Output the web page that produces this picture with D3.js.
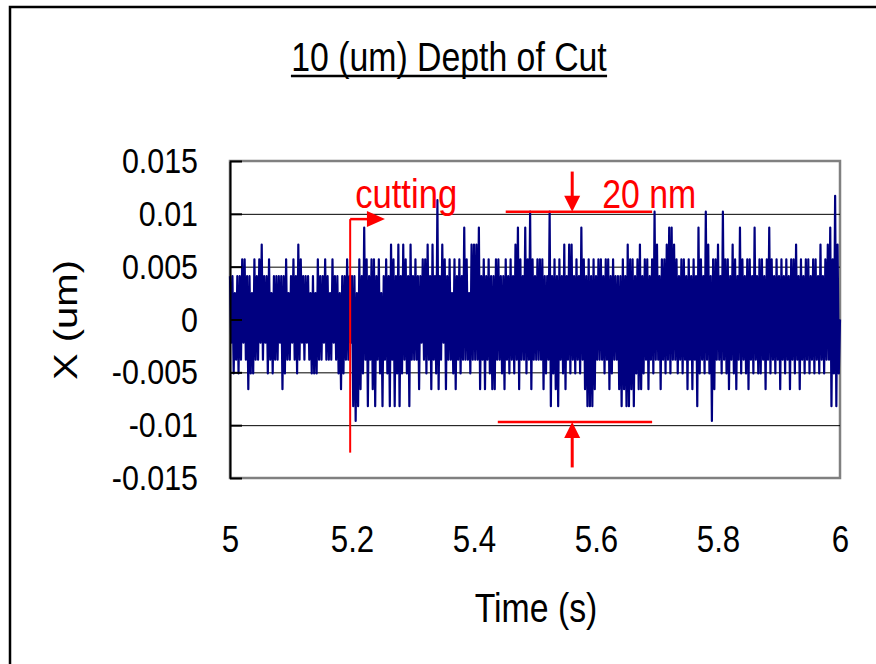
<!DOCTYPE html>
<html>
<head>
<meta charset="utf-8">
<script src="https://cdn.jsdelivr.net/npm/d3@7"></script>
<style>
  body { margin: 0; background: #fff; }
  text { font-family: "Liberation Sans", Arial, sans-serif; }
</style>
</head>
<body>
<div class="canvas"></div>
<script>
// displacement samples (nm), one every 2 ms from 5.000 s to 6.000 s
const seg50 = [4.1,-2.2,4.1,-5.1,2.5,-3.8,4.1,-5.1,4.1,-3.8, 5.7,-2.2,5.7,-3.8,4.1,-6.6,4.1,-5.1,2.5,-5.1,
  5.7,-3.8,4.1,-3.8,5.7,-2.2,7.1,-3.8,4.1,-2.2, 4.1,-5.1,5.7,-3.8,2.5,-5.1,4.1,-3.8,4.1,-3.8,
  4.1,-2.2,4.1,-6.6,4.1,-5.1,5.7,-3.8,2.5,-3.8];
const seg51 = [4.1,-2.2,5.7,-3.8,4.1,-5.1,7.1,-3.8,5.7,-2.2, 4.1,-3.8,4.1,-2.2,4.1,-3.8,2.5,-5.1,4.1,-5.1,
  2.5,-5.1,5.7,-3.8,4.1,-3.8,4.1,-2.2,5.7,-3.8, 4.1,-3.8,2.5,-3.8,5.7,-2.2,4.1,-3.8,4.1,-5.1,
  2.5,-6.6,4.1,-5.1,4.1,-3.8,5.7,-3.8,4.1,-2.2];
const seg52 = [4.1,-8.2,4.1,-9.6,2.5,-8.2,5.7,-6.6,4.1,-5.1, 8.7,-3.8,5.7,-8.2,4.1,-3.8,5.7,-6.6,5.7,-8.2,
  4.1,-3.8,5.7,-5.1,2.5,-8.2,4.1,-3.8,5.7,-5.1, 4.1,-8.2,7.1,-3.8,5.7,-8.2,4.1,-5.1,7.1,-8.2,
  4.1,-5.1,7.1,-3.8,5.7,-5.1,4.1,-8.2,7.1,-3.8];
const seg53 = [4.1,-3.8,5.7,-3.8,4.1,-6.6,4.1,-2.2,5.7,-3.8, 5.7,-5.1,7.1,-3.8,4.1,-6.6,7.1,-3.8,4.1,-5.1,
  11.3,-6.6,4.1,-3.8,7.1,-2.2,5.7,-6.6,4.1,-3.8, 5.7,-3.8,2.5,-5.1,5.7,-6.6,4.1,-3.8,5.7,-5.1,
  4.1,-3.8,8.7,-3.8,5.7,-3.8,2.5,-5.1,7.1,-3.8];
const seg54 = [7.1,-3.8,7.1,-3.8,8.7,-6.6,4.1,-3.8,5.7,-6.6, 4.1,-3.8,5.7,-5.1,4.1,-6.6,4.1,-6.6,5.7,-3.8,
  5.7,-3.8,4.1,-5.1,4.1,-6.6,5.7,-3.8,4.1,-5.1, 5.7,-3.8,4.1,-5.1,7.1,-3.8,8.7,-6.6,5.7,-3.8,
  4.1,-3.8,8.7,-5.1,5.7,-3.8,10.2,-6.6,5.7,-3.8];
const seg55 = [4.1,-3.8,5.7,-3.8,5.7,-3.8,5.7,-6.6,4.1,-5.1, 4.1,-3.8,10.2,-8.2,4.1,-5.1,5.7,-6.6,4.1,-8.2,
  5.7,-3.8,4.1,-5.1,7.1,-6.6,4.1,-3.8,7.1,-5.1, 7.1,-3.8,4.1,-5.1,5.7,-3.8,4.1,-5.1,8.7,-3.8,
  5.7,-6.6,4.1,-8.2,5.7,-8.2,4.1,-8.2,5.7,-6.6];
const seg56 = [4.1,-3.8,5.7,-3.8,5.7,-3.8,4.1,-5.1,5.7,-3.8, 5.7,-6.6,4.1,-5.1,5.7,-3.8,4.1,-3.8,4.1,-6.6,
  4.1,-8.2,5.7,-6.6,4.1,-8.2,7.1,-8.2,5.7,-6.6, 5.7,-8.2,4.1,-5.1,5.7,-6.6,7.1,-6.6,4.1,-5.1,
  5.7,-3.8,5.7,-6.6,4.1,-3.8,5.7,-5.1,10.2,-3.8];
const seg57 = [7.1,-3.8,4.1,-6.6,5.7,-3.8,5.7,-5.1,7.1,-3.8, 8.7,-5.1,8.7,-3.8,7.1,-3.8,5.7,-5.1,4.1,-3.8,
  5.7,-5.1,5.7,-3.8,4.1,-6.6,5.7,-3.8,4.1,-6.6, 5.7,-3.8,4.1,-8.2,8.7,-5.1,5.7,-3.8,4.1,-5.1,
  10.2,-3.8,7.1,-5.1,4.1,-9.6,5.7,-6.6,5.7,-3.8];
const seg58 = [7.1,-3.8,4.1,-5.1,10.2,-3.8,5.7,-5.1,5.7,-6.6, 4.1,-3.8,7.1,-5.1,5.7,-6.6,4.1,-3.8,8.7,-5.1,
  5.7,-3.8,4.1,-5.1,5.7,-6.6,5.7,-3.8,4.1,-5.1, 8.7,-3.8,4.1,-5.1,5.7,-5.1,5.7,-3.8,4.1,-6.6,
  5.7,-3.8,8.7,-5.1,5.7,-3.8,4.1,-5.1,5.7,-3.8];
const seg59 = [4.1,-6.6,5.7,-3.8,4.1,-5.1,5.7,-3.8,4.1,-6.6, 5.7,-3.8,5.7,-5.1,7.1,-3.8,4.1,-6.6,5.7,-3.8,
  4.1,-5.1,5.7,-3.8,5.7,-5.1,4.1,-3.8,5.7,-5.1, 5.7,-3.8,4.1,-5.1,7.1,-3.8,4.1,-5.1,5.7,-3.8,
  7.1,-3.8,8.7,-8.2,5.7,-5.1,11.7,-8.2,7.1,-5.1, 0.0];

const startTime = 5;
const sampleStep = 0.002;

const xTicks = [5, 5.2, 5.4, 5.6, 5.8, 6];
const xTickLabels = ['5', '5.2', '5.4', '5.6', '5.8', '6'];
const yTicks = [0.015, 0.01, 0.005, 0, -0.005, -0.01, -0.015];
const yTickLabels = ['0.015', '0.01', '0.005', '0', '-0.005', '-0.01', '-0.015'];
const gridValues = [0.01, 0.005, 0, -0.005, -0.01];

// annotation anchors, in data units (s, um)
const cutStart = { t: 5.197, top: 0.0095, bottom: -0.0126, arrowEnd: 5.254 };
const band = { upper: 0.0102, lower: -0.0097, upperFrom: 5.452, lowerFrom: 5.439, to: 5.692, arrowT: 5.561, outer: 0.014 };

const samples = [].concat(seg50, seg51, seg52, seg53, seg54, seg55, seg56, seg57, seg58, seg59)
  .map((v, i) => ({ t: startTime + i * sampleStep, x: v / 1000 }));

// the original text is horizontally condensed
const squeeze = 0.845;

const svg = d3.select('.canvas')
  .append('svg')
  .attr('width', 876)
  .attr('height', 664);

// chart frame
svg.append('rect')
  .attr('x', 10).attr('y', 7)
  .attr('width', 900).attr('height', 700)
  .attr('fill', 'none')
  .attr('stroke', '#000')
  .attr('stroke-width', 2.5);

const margin = { left: 230, top: 161 };
const width = 610, height = 317;

const graph = svg.append('g')
  .attr('transform', `translate(${margin.left},${margin.top})`);

const x = d3.scaleLinear().domain([5, 6]).range([0, width]);
const y = d3.scaleLinear().domain([-0.015, 0.015]).range([height, 0]);

// plot area border
graph.append('rect')
  .attr('width', width).attr('height', height)
  .attr('fill', 'none')
  .attr('stroke', '#808080')
  .attr('stroke-width', 2.5);

// gridlines
graph.append('g')
  .call(d3.axisLeft(y).tickValues(gridValues).tickSize(-width).tickFormat(''))
  .call(g => g.select('.domain').remove())
  .selectAll('line')
  .attr('stroke', '#000')
  .attr('stroke-width', 1);

// data line
const line = d3.line()
  .x(d => x(d.t))
  .y(d => y(d.x));

graph.append('path')
  .datum(samples)
  .attr('fill', 'none')
  .attr('stroke', '#000080')
  .attr('stroke-width', 2.2)
  .attr('stroke-linejoin', 'round')
  .attr('d', line);

// y axis with inside ticks
const yAxisGroup = graph.append('g')
  .call(d3.axisLeft(y).tickValues(yTicks).tickSizeInner(-12).tickSizeOuter(0).tickPadding(32)
    .tickFormat((d, i) => yTickLabels[i]));
yAxisGroup.select('.domain').attr('stroke', '#000').attr('stroke-width', 2);
yAxisGroup.selectAll('.tick line').attr('stroke', '#000').attr('stroke-width', 2);
yAxisGroup.selectAll('text')
  .attr('font-size', 36)
  .attr('fill', '#000')
  .attr('x', -32 / squeeze)
  .attr('transform', `scale(${squeeze},1)`);
yAxisGroup.attr('font-family', null);

// x axis labels only
const xAxisGroup = graph.append('g')
  .attr('transform', `translate(0,${height})`)
  .call(d3.axisBottom(x).tickValues(xTicks).tickSize(0).tickPadding(48)
    .tickFormat((d, i) => xTickLabels[i]));
xAxisGroup.select('.domain').remove();
xAxisGroup.attr('font-family', null);
xAxisGroup.selectAll('text')
  .attr('font-size', 37)
  .attr('fill', '#000')
  .attr('transform', `scale(${squeeze},1)`);

// titles
const title = svg.append('text')
  .attr('transform', `translate(449,71) scale(${squeeze},1)`)
  .attr('text-anchor', 'middle')
  .attr('font-size', 40)
  .text('10 (um) Depth of Cut');
const titleW = title.node().getBBox().width * squeeze;
svg.append('line')
  .attr('x1', 449 - titleW / 2).attr('x2', 449 + titleW / 2)
  .attr('y1', 76).attr('y2', 76)
  .attr('stroke', '#000').attr('stroke-width', 2.5);

svg.append('text')
  .attr('transform', `translate(536,622) scale(${squeeze},1)`)
  .attr('text-anchor', 'middle')
  .attr('font-size', 40)
  .text('Time (s)');

svg.append('text')
  .attr('transform', `translate(77,320) rotate(-90) scale(1,${squeeze})`)
  .attr('text-anchor', 'middle')
  .attr('font-size', 40)
  .text('X (um)');

// annotations
const red = '#ff0000';
const ann = graph.append('g');

ann.append('line')
  .attr('x1', x(cutStart.t)).attr('x2', x(cutStart.t))
  .attr('y1', y(cutStart.top)).attr('y2', y(cutStart.bottom))
  .attr('stroke', red).attr('stroke-width', 2);
ann.append('line')
  .attr('x1', x(cutStart.t)).attr('x2', x(cutStart.arrowEnd) - 16)
  .attr('y1', y(cutStart.top)).attr('y2', y(cutStart.top))
  .attr('stroke', red).attr('stroke-width', 2.5);
ann.append('path')
  .attr('d', `M${x(cutStart.arrowEnd)},${y(cutStart.top)} l-18,-8 l0,16 z`)
  .attr('fill', red);
ann.append('text')
  .attr('transform', `translate(${x(cutStart.t) + 5},47) scale(${squeeze},1)`)
  .attr('font-size', 41)
  .attr('fill', red)
  .text('cutting');

ann.append('line')
  .attr('x1', x(band.upperFrom)).attr('x2', x(band.to))
  .attr('y1', y(band.upper)).attr('y2', y(band.upper))
  .attr('stroke', red).attr('stroke-width', 2.5);
ann.append('line')
  .attr('x1', x(band.lowerFrom)).attr('x2', x(band.to))
  .attr('y1', y(band.lower)).attr('y2', y(band.lower))
  .attr('stroke', red).attr('stroke-width', 2.5);

// down arrow onto the upper line
ann.append('line')
  .attr('x1', x(band.arrowT)).attr('x2', x(band.arrowT))
  .attr('y1', y(band.outer)).attr('y2', y(band.upper) - 12)
  .attr('stroke', red).attr('stroke-width', 3);
ann.append('path')
  .attr('d', `M${x(band.arrowT)},${y(band.upper)} l-8,-16 l16,0 z`)
  .attr('fill', red);
// up arrow onto the lower line
ann.append('line')
  .attr('x1', x(band.arrowT)).attr('x2', x(band.arrowT))
  .attr('y1', y(-band.outer)).attr('y2', y(band.lower) + 12)
  .attr('stroke', red).attr('stroke-width', 3);
ann.append('path')
  .attr('d', `M${x(band.arrowT)},${y(band.lower)} l-8,16 l16,0 z`)
  .attr('fill', red);

ann.append('text')
  .attr('transform', `translate(${x(band.arrowT) + 30},47) scale(${squeeze},1)`)
  .attr('font-size', 40)
  .attr('fill', red)
  .text('20 nm');
</script>
</body>
</html>
